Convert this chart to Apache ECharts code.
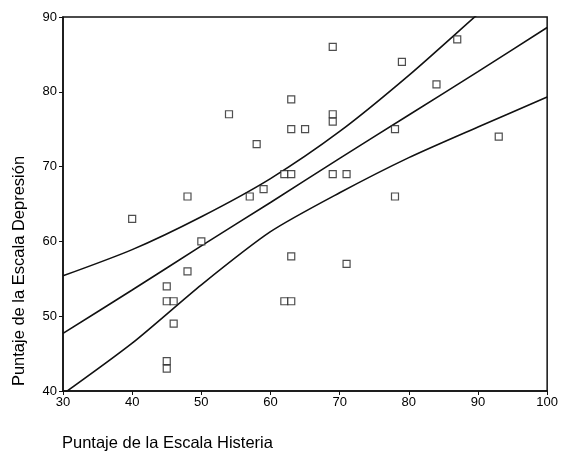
<!DOCTYPE html>
<html>
<head>
<meta charset="utf-8">
<script src="https://cdn.jsdelivr.net/npm/echarts@6/dist/echarts.min.js"></script>
<style>
  html, body { margin: 0; padding: 0; background: #fff; }
  #chart { width: 561px; height: 453px; }
</style>
</head>
<body>
<div id="chart"></div>
<script>
// puntajes
var histeria  = [63, 54, 63, 65, 58, 62, 63, 59, 57, 48, 69, 87, 79, 84, 69, 69, 78, 93, 69, 71, 78, 40, 50, 48, 45, 45, 46, 46, 45, 45, 63, 62, 63, 71];
var depresion = [79, 77, 75, 75, 73, 69, 69, 67, 66, 66, 86, 87, 84, 81, 77, 76, 75, 74, 69, 69, 66, 63, 60, 56, 54, 52, 52, 49, 44, 43, 58, 52, 52, 57];

// recta de regresion y bandas de confianza
var lineX    = [30, 40, 50, 60, 70, 80, 90, 100];
var ajuste   = [47.7, 53.5, 59.4, 65.2, 71.1, 76.9, 82.7, 88.6];
var superior = [55.4, 58.9, 63.3, 68.4, 74.7, 82.2, 90.4, 98.5];
var inferior = [39.6, 46.4, 54.2, 61.3, 66.5, 71.2, 75.3, 79.3];

var xTicks = [30, 40, 50, 60, 70, 80, 90, 100];
var yTicks = [40, 50, 60, 70, 80, 90];

function pares(xs, ys) {
    return xs.map(function (x, i) { return [x, ys[i]]; });
}

var myChart = echarts.init(document.getElementById('chart'));
var fuente = 'Liberation Sans, Arial, sans-serif';
var lineaStyle = { color: '#111', width: 1.6 };

var option = {
    backgroundColor: '#fff',
    animation: false,
    grid: {
        left: 63, right: 12, top: 17, bottom: 62,
        show: true, borderColor: '#111', borderWidth: 1.5,
        backgroundColor: 'transparent'
    },
    xAxis: {
        type: 'value',
        min: xTicks[0], max: xTicks[xTicks.length - 1], interval: 10,
        axisLine: { show: true, lineStyle: { color: '#111', width: 1.5 } },
        axisTick: { show: true, inside: false, length: 4, lineStyle: { color: '#111' } },
        axisLabel: { color: '#000', fontSize: 13, fontFamily: fuente, margin: 5 },
        splitLine: { show: false }
    },
    yAxis: {
        type: 'value',
        min: yTicks[0], max: yTicks[yTicks.length - 1], interval: 10,
        axisLine: { show: true, lineStyle: { color: '#111', width: 1.5 } },
        axisTick: { show: true, inside: false, length: 4, lineStyle: { color: '#111' } },
        axisLabel: { color: '#000', fontSize: 13, fontFamily: fuente, margin: 6 },
        splitLine: { show: false }
    },
    graphic: [{
        type: 'text',
        left: 62, top: 435,
        style: { text: 'Puntaje de la Escala Histeria', fill: '#000', font: '16.5px ' + fuente }
    }, {
        type: 'text',
        x: 19, y: 271,
        rotation: Math.PI / 2,
        style: {
            text: 'Puntaje de la Escala Depresión', fill: '#000', font: '16.5px ' + fuente,
            align: 'center', verticalAlign: 'middle'
        }
    }],
    series: [{
        type: 'line', data: pares(lineX, ajuste), showSymbol: false, smooth: 0.25,
        lineStyle: lineaStyle, clip: true
    }, {
        type: 'line', data: pares(lineX, superior), showSymbol: false, smooth: 0.25,
        lineStyle: lineaStyle, clip: true
    }, {
        type: 'line', data: pares(lineX, inferior), showSymbol: false, smooth: 0.25,
        lineStyle: lineaStyle, clip: true
    }, {
        type: 'scatter',
        data: pares(histeria, depresion),
        symbol: 'rect', symbolSize: 7,
        itemStyle: { color: '#fff', borderColor: '#222', borderWidth: 1.2 },
        z: 5
    }]
};
myChart.setOption(option);
</script>
</body>
</html>
